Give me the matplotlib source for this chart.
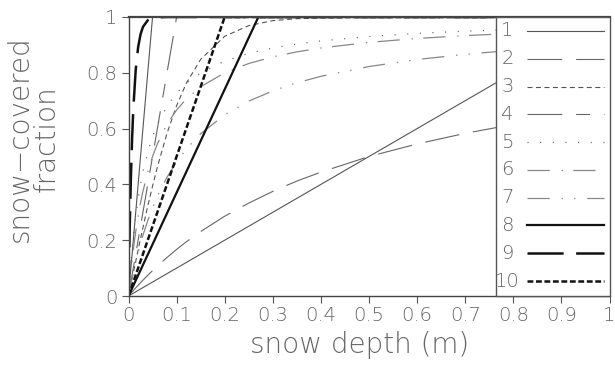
import matplotlib
matplotlib.use("Agg")
import matplotlib.pyplot as plt
from matplotlib.patches import Rectangle
from matplotlib.lines import Line2D

plt.rcParams['lines.scale_dashes'] = False
plt.rcParams['font.family'] = ['DejaVu Sans']
plt.rcParams['font.weight'] = 'light'
plt.rcParams['axes.labelweight'] = 'light'

# ---------------- data ----------------
depth = [0, 0.0025, 0.005, 0.0075, 0.01, 0.015, 0.02, 0.025, 0.03, 0.04, 0.05,
         0.06, 0.08, 0.1, 0.12, 0.15, 0.2, 0.25, 0.3, 0.35, 0.4, 0.5, 0.6,
         0.7, 0.8, 0.9, 1.0]

frac2 = [0, 0.005, 0.0099, 0.0148, 0.0196, 0.0291, 0.0385, 0.0476, 0.0566, 0.0741,
         0.0909, 0.107, 0.138, 0.167, 0.194, 0.231, 0.286, 0.333, 0.375, 0.412,
         0.444, 0.5, 0.545, 0.583, 0.615, 0.643, 0.667]
frac3 = [0, 0.0208, 0.0416, 0.0624, 0.0831, 0.124, 0.165, 0.205, 0.245, 0.322,
         0.394, 0.462, 0.583, 0.682, 0.762, 0.848, 0.931, 0.969, 0.987, 0.994,
         0.997, 0.999, 1.0, 1.0, 1.0, 1.0, 1.0]
frac5 = [0, 0.0625, 0.1176, 0.1667, 0.2105, 0.2857, 0.3478, 0.4, 0.4444, 0.5161,
         0.5714, 0.6154, 0.6809, 0.7273, 0.7619, 0.8, 0.8421, 0.8696, 0.8889,
         0.9032, 0.9143, 0.9302, 0.9412, 0.9492, 0.9552, 0.96, 0.9639]
frac6 = [0, 0.0476, 0.0909, 0.1304, 0.1667, 0.2308, 0.2857, 0.3333, 0.375, 0.4444,
         0.5, 0.5455, 0.6154, 0.6667, 0.7059, 0.75, 0.8, 0.8333, 0.8571, 0.875,
         0.8889, 0.9091, 0.9231, 0.9333, 0.9412, 0.9474, 0.9524]
frac7 = [0, 0.0226, 0.0442, 0.0649, 0.0847, 0.122, 0.1563, 0.188, 0.2174, 0.2703,
         0.3165, 0.3571, 0.4255, 0.4808, 0.5263, 0.5814, 0.6494, 0.6983, 0.7353,
         0.7642, 0.7874, 0.8224, 0.8475, 0.8663, 0.881, 0.8929, 0.9025]
frac9 = [0, 0.2425, 0.4262, 0.5654, 0.6708, 0.8111, 0.8916, 0.9378, 0.9643, 0.9883,
         0.9962, 0.9987, 1.0, 1.0, 1.0, 1.0, 1.0, 1.0, 1.0, 1.0, 1.0, 1.0, 1.0,
         1.0, 1.0, 1.0, 1.0]

# piecewise-linear schemes
depth1 = [0, 1.0]
frac1 = [0, 1.0]
depth1b = [0, 0.05, 1.0]
frac1b = [0, 1.0, 1.0]
depth4 = [0, 0.1, 1.0]
frac4 = [0, 1.0, 1.0]
depth8 = [0, 0.27, 1.0]
frac8 = [0, 1.0, 1.0]
depth10 = [0, 0.2, 1.0]
frac10 = [0, 1.0, 1.0]

labels = ['1', '2', '3', '4', '5', '6', '7', '8', '9', '10']
x_ticks = [0, 0.1, 0.2, 0.3, 0.4, 0.5, 0.6, 0.7, 0.8, 0.9, 1]
x_ticklabels = ['0', '0.1', '0.2', '0.3', '0.4', '0.5', '0.6', '0.7', '0.8', '0.9', '1']
y_ticks = [0, 0.2, 0.4, 0.6, 0.8, 1]
y_ticklabels = ['0', '0.2', '0.4', '0.6', '0.8', '1']

# ---------------- styles ----------------
styles = {
    '1': dict(color='#555555', lw=0.8, ls='-'),
    '2': dict(color='#666666', lw=0.8, ls=(0, (25, 10))),
    '3': dict(color='#555555', lw=0.8, ls=(0, (3.6, 2.5))),
    '4': dict(color='#666666', lw=0.8, ls=(0, (25, 10, 10, 10))),
    '5': dict(color='#666666', lw=0.9, ls=(0, (0.8, 8.3))),
    '6': dict(color='#888888', lw=0.9, ls=(0, (16, 8.5, 1, 7.5))),
    '7': dict(color='#888888', lw=0.9, ls=(0, (16, 8.5, 1, 8, 1, 8.5))),
    '8': dict(color='#111111', lw=1.6, ls='-'),
    '9': dict(color='#111111', lw=1.8, ls=(0, (26, 9))),
    '10': dict(color='#111111', lw=1.8, ls=(0, (4.2, 1.9))),
}

series = [
    ('1', depth1, frac1), ('1', depth1b, frac1b),
    ('2', depth, frac2), ('3', depth, frac3), ('4', depth4, frac4),
    ('5', depth, frac5), ('6', depth, frac6), ('7', depth, frac7),
    ('8', depth8, frac8), ('9', depth, frac9), ('10', depth10, frac10),
]

fig = plt.figure(figsize=(6.15, 3.77), dpi=100)
ax = fig.add_axes([128.5 / 615, 81 / 377, 481 / 615, 279 / 377])

for key, xs, ys in series:
    st = styles[key]
    ax.plot(xs, ys, color=st['color'], lw=st['lw'], linestyle=st['ls'],
            zorder=2, solid_capstyle='butt', dash_capstyle='butt')

ax.set_xlim(0, 1)
ax.set_ylim(0, 1)
ax.set_xticks(x_ticks)
ax.set_xticklabels(x_ticklabels)
ax.set_yticks(y_ticks)
ax.set_yticklabels(y_ticklabels)

tcol = '#666666'
ax.tick_params(axis='both', direction='out', length=5, width=0.8, colors='#555555',
               labelcolor=tcol, labelsize=14)
ax.tick_params(axis='x', pad=2)
ax.tick_params(axis='y', pad=3)

for s in ['left', 'bottom', 'top']:
    ax.spines[s].set_color('#444444')
    ax.spines[s].set_linewidth(1.0)
ax.spines['top'].set_linewidth(1.6)
ax.spines['right'].set_visible(False)

# legend box
lx0 = 0.765
ax.add_patch(Rectangle((lx0, 0), 1 - lx0, 1, transform=ax.transAxes,
                       facecolor='white', edgecolor='#555555', lw=1.0,
                       zorder=5, clip_on=False))
for i, lab in enumerate(labels):
    yy = 0.95 - i * 0.0996
    ax.text(0.788, yy, lab, transform=ax.transAxes, ha='center', va='center',
            fontsize=14, color=tcol, zorder=6)
    st = styles[lab]
    ax.add_line(Line2D([0.829, 0.988], [yy, yy], transform=ax.transAxes,
                       color=st['color'], lw=st['lw'], linestyle=st['ls'],
                       zorder=6, clip_on=False, dash_capstyle='butt'))

ax.set_xlabel('snow depth (m)', fontsize=20, color=tcol, fontweight='light')
ax.xaxis.set_label_coords(0.48, -0.125)
ax.set_ylabel('snow\u2212covered\nfraction', fontsize=20, color=tcol,
              linespacing=0.95, fontweight='light')
ax.yaxis.set_label_coords(-0.140, 0.563)

fig.savefig('out.png', dpi=100)
